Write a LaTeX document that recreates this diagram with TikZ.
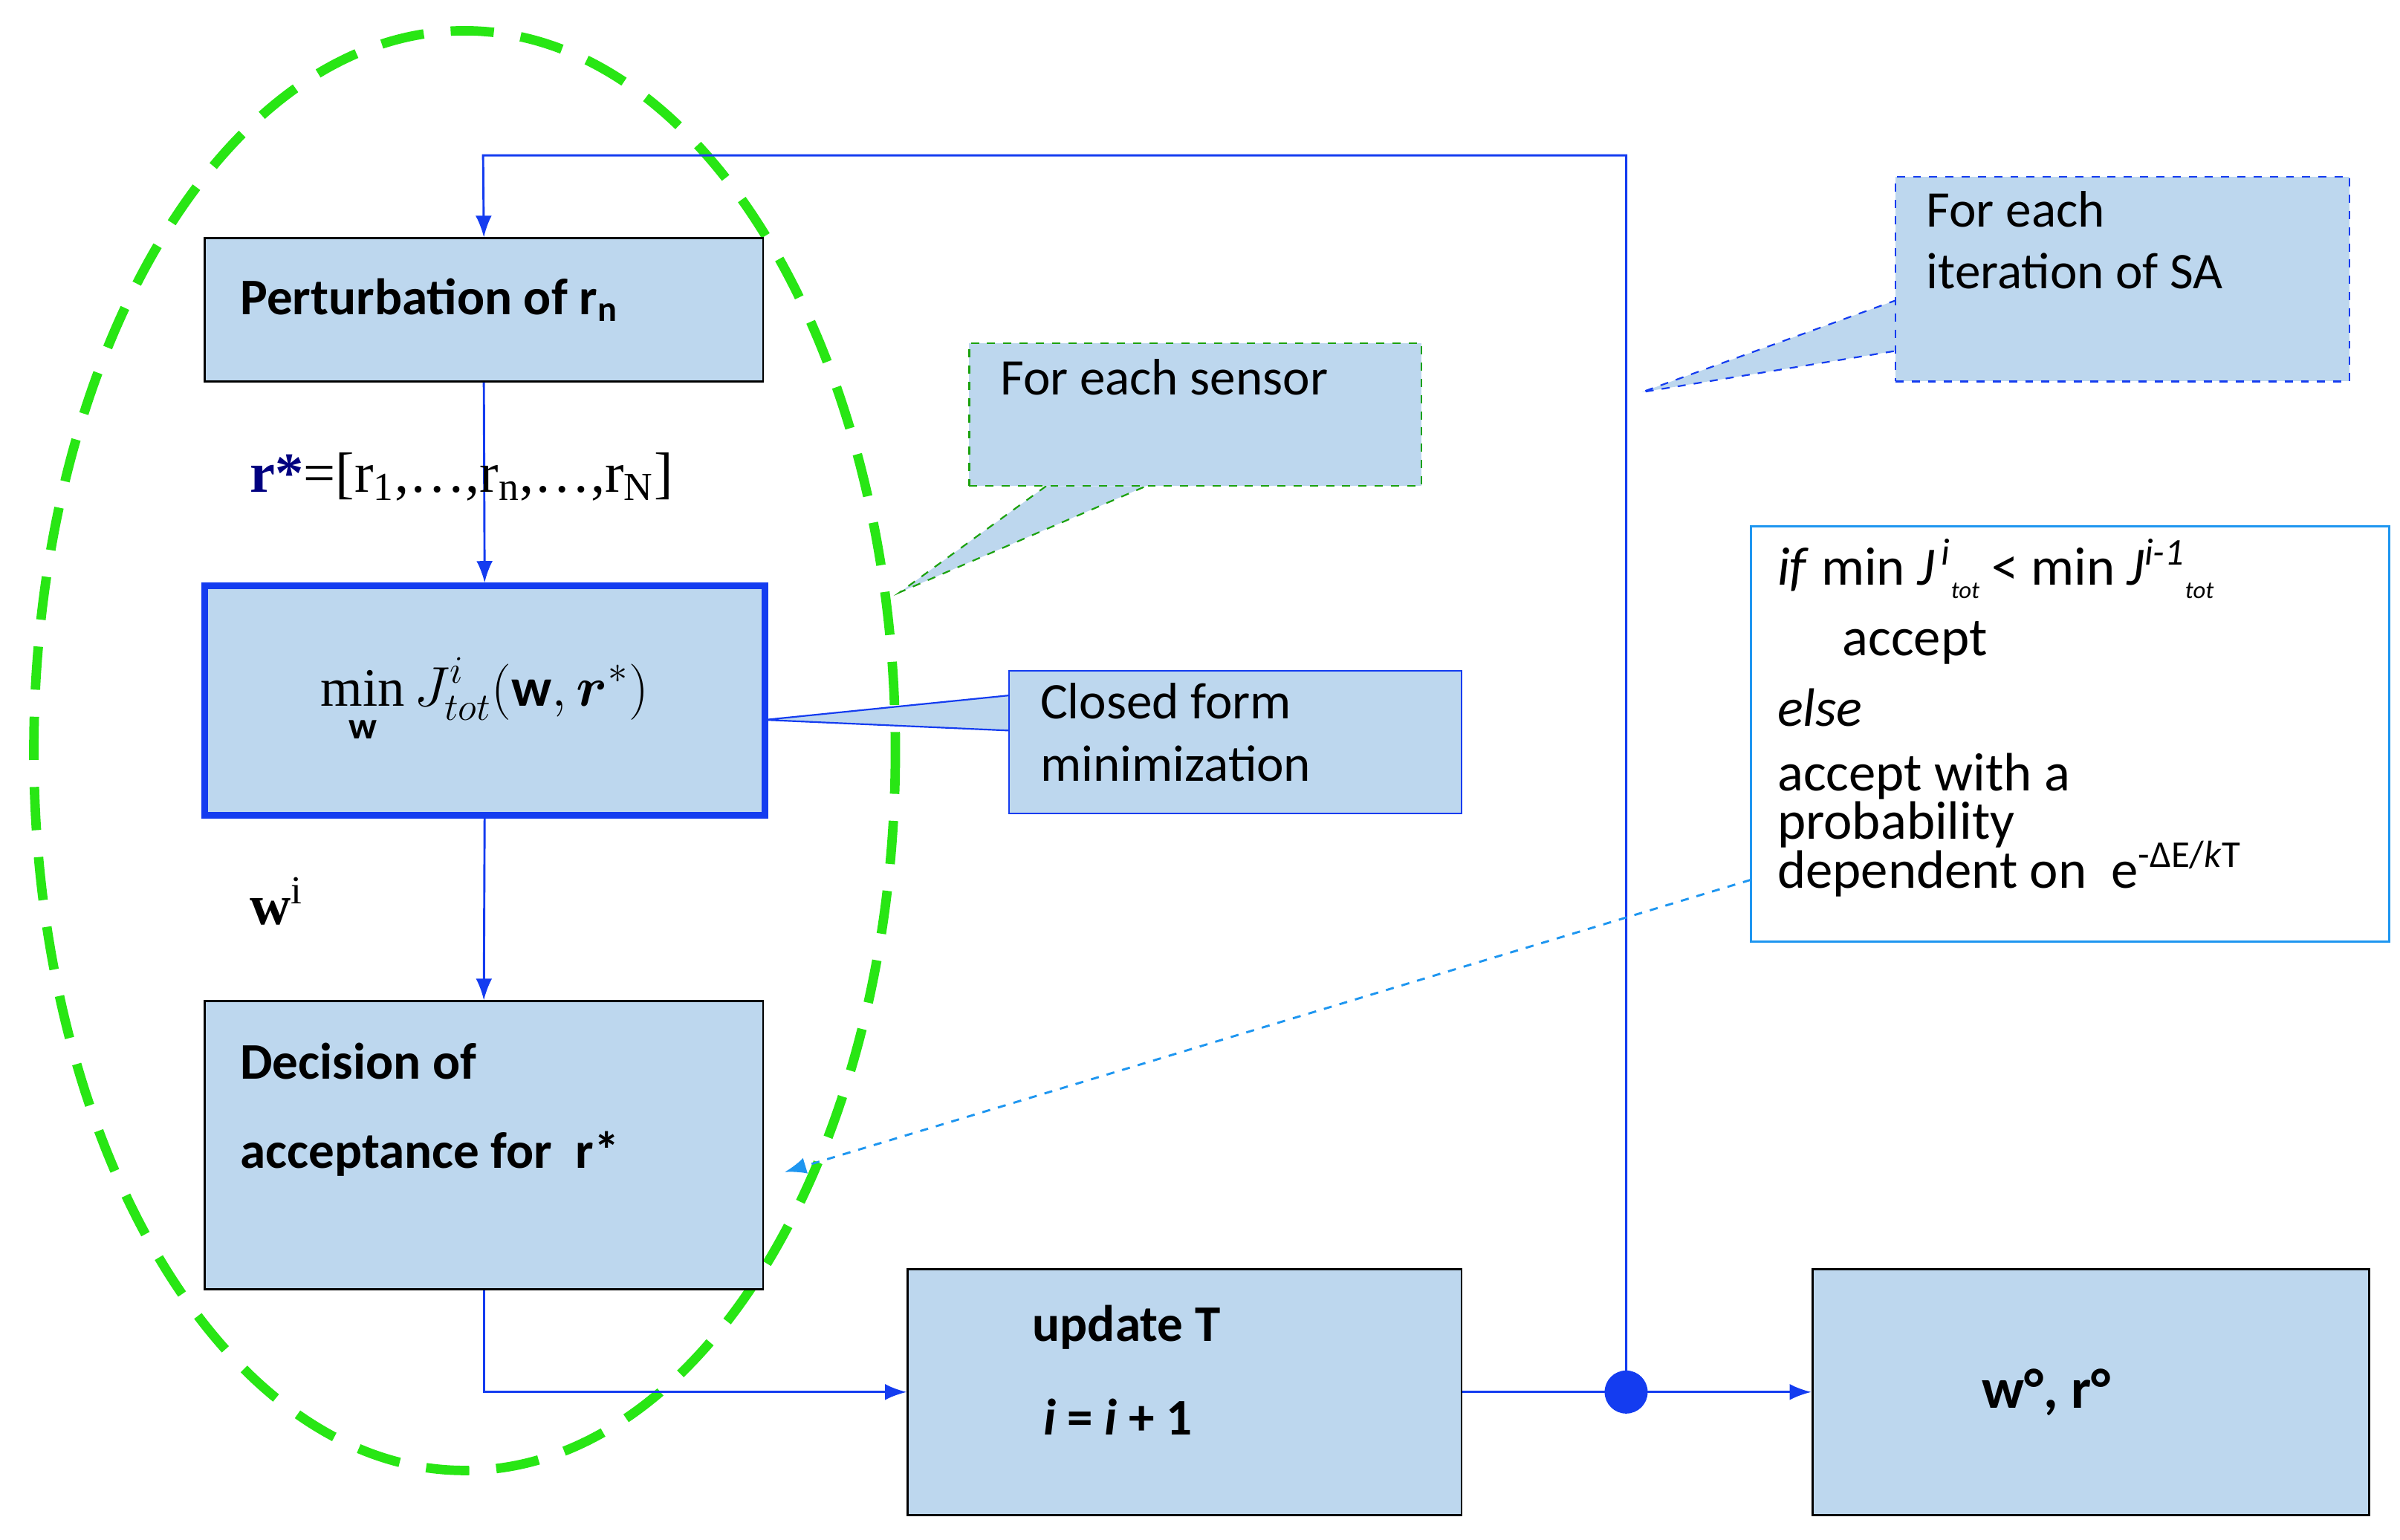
\documentclass[tikz,border=0pt]{standalone}
\usepackage{amsmath,amssymb,bm}
\usepackage{fontspec}
\setmainfont{Carlito}
\newfontfamily\serf{Liberation Serif}
\usetikzlibrary{arrows.meta}
\definecolor{lb}{RGB}{189,215,238}
\definecolor{ln}{RGB}{20,60,240}
\definecolor{gr}{RGB}{40,230,20}
\definecolor{sky}{RGB}{30,150,240}
\begin{document}
\begin{tikzpicture}[x=0.02cm,y=-0.02cm,
  box/.style={draw=black,fill=lb,line width=0.8pt,inner sep=0pt},
  con/.style={draw=ln,line width=0.8pt,-{Latex[length=8pt,width=6pt]}},
  txt/.style={font=\fontsize{19}{23}\selectfont}]
\useasboundingbox (0,0) rectangle (1560,1001);
% green dashed ellipse
\draw[gr,line width=3.5pt,dash pattern=on 16pt off 10pt] (302,488) ellipse [x radius=280,y radius=468];
% boxes
\node[box,minimum width=363*0.02cm,minimum height=93*0.02cm] (pert) at (314.5,201.5) {};
\node[txt,anchor=west,font=\fontsize{19}{23}\selectfont\bfseries] at (150,195) {Perturbation of r\textsubscript{n}};
\node[box,draw=ln,line width=2.5pt,minimum width=364*0.02cm,minimum height=149*0.02cm] (min) at (315,455.5) {\fontsize{20}{24}\selectfont\serf$\displaystyle\mathop{\text{\serf min}}_{\mathbf{w}} J^{i}_{tot}(\mathbf{w},\bm{r}^{*})$};
\node[box,minimum width=363*0.02cm,minimum height=187*0.02cm] (dec) at (314.5,744.5) {};
\node[anchor=west,font=\fontsize{19}{23}\selectfont\bfseries,align=left] at (150,690) {Decision of};
\node[anchor=west,font=\fontsize{19}{23}\selectfont\bfseries,align=left] at (150,750) {acceptance for\ \ r*};
\node[box,minimum width=360*0.02cm,minimum height=160*0.02cm] (upd) at (770,905) {};
\node[anchor=west,font=\fontsize{19}{23}\selectfont\bfseries] at (665,863) {update T};
\node[anchor=west,font=\fontsize{19}{23}\selectfont\bfseries] at (672,921) {\textit{i} = \textit{i} + 1};
\node[box,minimum width=362*0.02cm,minimum height=160*0.02cm] (wr) at (1359,905) {};
\node[font=\fontsize{21}{25}\selectfont\bfseries] at (1330,905) {w°, r°};
% dot
\fill[ln] (1057,905) circle (14);
\coordinate (dot) at (1057,905);
\coordinate (top1) at (1057,101);
\coordinate (top2) at (314,101);
% connectors
\draw[con] (pert.south) -- (min.north);
\draw[con] (min.south) -- (dec.north);
\draw[con] (dec.south) |- (upd.west);
\draw[ln,line width=0.8pt] (upd.east) -- (dot);
\draw[con] (dot) -- (wr.west);
\draw[con] (dot) -- (top1) -- (top2) -- (pert.north);
% labels
\node[font=\fontsize{21}{24}\selectfont\serf] at (300,310) {\textcolor{blue!50!black}{\textbf{r*}}=[r\textsubscript{1},\ldots,r\textsubscript{n},\ldots,r\textsubscript{N}]};
\node[font=\fontsize{21}{24}\selectfont\serf] at (180,586) {\textbf{w}\textsuperscript{i}};
% callout sensor
\fill[lb] (680,316) -- (745,316) -- (585,385) -- cycle;
\draw[gr!70!black,dashed,line width=0.6pt] (680,316) -- (585,385) -- (745,316);
\node[draw=gr!70!black,dashed,line width=0.6pt,fill=lb,minimum width=294*0.02cm,minimum height=93*0.02cm] (sens) at (777,269.5) {};
\node[txt,anchor=west] at (644,245) {For each sensor};
% callout SA
\fill[lb] (1233,195) -- (1233,228) -- (1067,255) -- cycle;
\draw[ln,dashed,line width=0.6pt] (1233,195) -- (1067,255) -- (1233,228);
\node[draw=ln,dashed,line width=0.6pt,fill=lb,minimum width=295*0.02cm,minimum height=133*0.02cm] (sa) at (1379.5,181.5) {};
\node[txt,anchor=north west,align=left] at (1246,118) {For each\\iteration of SA};
% callout closed form
\fill[lb] (657,452) -- (657,475) -- (497,468) -- cycle;
\draw[ln,line width=0.6pt] (657,452) -- (497,468) -- (657,475);
\node[draw=ln,line width=0.6pt,fill=lb,minimum width=294*0.02cm,minimum height=93*0.02cm] (cf) at (803,482.5) {};
\node[txt,anchor=north west,align=left] at (670,438) {Closed form\\minimization};
% right text box
\node[draw=sky,line width=0.8pt,fill=white,minimum width=415*0.02cm,minimum height=270*0.02cm] (rule) at (1345.5,477) {};
\node[anchor=north west,align=left,font=\fontsize{20}{24}\selectfont,inner sep=0pt] at (1155,350) {\textit{if} min \textit{J}\textsuperscript{\,\textit{i}}\raisebox{-0.5ex}{\small\textit{tot}} < min \textit{J}\textsuperscript{\textit{i-1}}\raisebox{-0.5ex}{\small\textit{tot}}\\[2pt]
\hspace*{1.2em}accept\\[2pt]
\textit{else}\\
accept with a\\[-6pt]
probability\\[-6pt]
dependent on\ \ e\textsuperscript{-ΔE/\textit{k}T}};
\coordinate (dtip) at (510,762);
\draw[sky,dashed,line width=0.8pt,-{Latex[length=8pt,width=6pt]}] (1138,572) -- (dtip);
\end{tikzpicture}
\end{document}
